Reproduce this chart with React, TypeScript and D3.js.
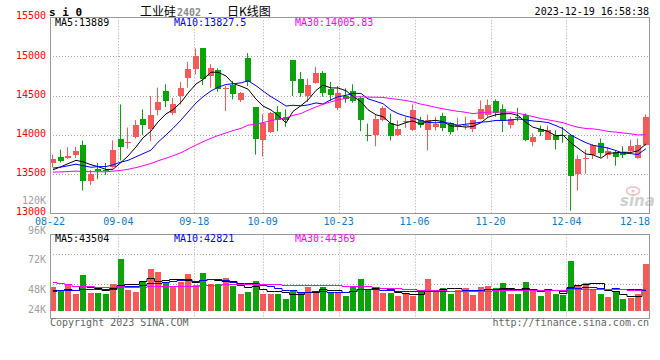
import React from "react";
import * as d3 from "d3";

// ---------- data ----------
const dates = [
  "08-22","08-23","08-24","08-25","08-28","08-29","08-30","08-31",
  "09-01","09-04","09-05","09-06","09-07","09-08","09-11","09-12","09-13","09-14","09-15","09-18","09-19","09-20","09-21","09-22","09-25","09-26","09-27","09-28",
  "10-09","10-10","10-11","10-12","10-13","10-16","10-17","10-18","10-19","10-20","10-23","10-24","10-25","10-26","10-27","10-30","10-31",
  "11-01","11-02","11-03","11-06","11-07","11-08","11-09","11-10","11-13","11-14","11-15","11-16","11-17","11-20","11-21","11-22","11-23","11-24","11-27","11-28","11-29","11-30",
  "12-01","12-04","12-05","12-06","12-07","12-08","12-11","12-12","12-13","12-14","12-15","12-18","12-19",
];

const opens = [
  13637,13722,13701,13748,13876,13406,13560,13555,13590,13953,
  13893,13970,14209,14073,14316,14555,14278,14496,14722,14838,
  15107,14752,14825,14581,14632,14444,14979,14350,13931,14034,
  14286,14222,14957,14709,14496,14662,14791,14581,14338,14496,
  14555,14474,14000,14004,14188,14158,14004,14167,14060,14184,
  14068,14107,14235,14154,14107,14111,14077,14197,14252,14427,
  14325,14124,14231,14248,13910,14077,13940,14000,14000,14000,
  13496,13692,13739,13897,13743,13778,13778,13790,13701,13867,
];
const highs = [
  13748,13812,13842,13850,13927,13555,13641,13641,13931,14389,
  14094,14188,14325,14496,14603,14645,14474,14675,14932,15103,
  15107,14902,14850,14624,14688,14547,15043,14350,14265,14291,
  14367,14325,14957,14803,14718,14868,14816,14675,14624,14594,
  14645,14487,14145,14261,14367,14273,14184,14231,14389,14231,
  14261,14231,14282,14162,14218,14231,14193,14440,14453,14453,
  14389,14231,14346,14273,14017,14120,14120,14060,14102,14009,
  13739,13812,13884,13953,13846,13799,13855,13940,13953,14261,
];
const lows = [
  13585,13649,13692,13705,13290,13363,13436,13491,13581,13675,
  13825,13953,13996,13919,14248,14355,14248,14389,14603,14773,
  14637,14603,14551,14303,14453,14419,14624,13748,13726,14025,
  14047,14102,14496,14487,14419,14654,14487,14432,14316,14410,
  14410,14047,13919,13855,14175,13927,13983,14090,14051,14090,
  13803,14056,14047,14004,14060,14068,14034,14197,14231,14231,
  14034,14081,14175,13919,13855,13983,13940,13812,13900,13034,
  13290,13504,13692,13714,13696,13607,13705,13786,13697,13863,
];
const closes = [
  13696,13662,13726,13799,13406,13504,13543,13543,13812,13842,
  13914,14120,14124,14248,14419,14427,14389,14594,14838,15000,
  14709,14859,14590,14603,14521,14530,14675,13953,14158,14273,
  14184,14196,14688,14530,14632,14791,14534,14508,14530,14453,
  14432,14196,13991,14209,14338,13983,14081,14175,14312,14124,
  14184,14137,14085,14034,14120,14120,14184,14325,14376,14282,
  14175,14197,14214,13931,13974,14034,14068,13931,13983,13470,
  13696,13701,13876,13769,13790,13718,13743,13863,13872,14231,
];
// volume, thousands of lots
const volumes = [
  45.3,42.5,46.9,39.8,55.0,40.6,40.6,39.6,47.7,68.0,
  43.1,41.5,49.6,59.9,57.7,48.2,45.5,49.6,55.8,47.2,
  56.9,47.7,47.7,52.6,46.1,39.8,41.2,50.1,39.8,39.6,
  39.6,35.8,42.0,41.5,45.5,42.3,45.5,40.6,41.5,38.2,
  45.0,51.8,42.8,43.9,40.6,40.1,38.2,40.1,38.2,42.3,
  51.8,42.8,44.4,39.6,42.8,44.4,38.8,45.5,46.1,44.4,
  48.5,39.6,39.6,49.3,42.8,37.9,43.6,39.6,38.8,66.4,
  46.1,48.5,42.8,39.6,37.1,41.5,35.5,36.6,39.6,64.0,
];
// sessions before 08-22 (only feed the moving averages)
const priorCloses = [
  13560,13600,13620,13580,13550,13590,13560,13540,13575,
  13500,13460,13420,13380,13400,13430,13450,13420,13440,13470,13433,
  13540,13560,13590,13603,13702,13467,13531,13589,13492,
];
const priorVolumes = [
  72,68,74,66,52,49,51,49.5,
  46,50,48,45,49,47,52,46,48,47,49,47.5,
  40,44,42,41,42,43,41,44,40.7,
];

const priceTicks = [15500, 15000, 14500, 14000, 13500, 13000];
const volumeTicks = [120, 96, 72, 48, 24];
const dateTicks = ["08-22", "09-04", "09-18", "10-09", "10-23", "11-06", "11-20", "12-04", "12-18"];
const maPeriods = [5, 10, 30];
const maColors = ["#000000", "#0000ff", "#ff00ff"];
const priceMaLegend = ["13889", "13827.5", "14005.83"];
const volumeMaLegend = ["43504", "42821", "44369"];

const titleCode = "s i 0";
const titleName = "工业硅";
const titleContract = "2402";
const titleSuffix = "日K线图";
const timestamp = "2023-12-19 16:58:38";

// ---------- styling ----------
const RED = "#f75959";
const GREEN = "#0aa30a";
const MONO = "'DejaVu Sans Mono', 'Liberation Mono', monospace";
const CJK = "'Noto Sans CJK SC', sans-serif";
const GRID = "#aaaaaa";
const BORDER = "#999999";

function movingAverage(prior: number[], values: number[], n: number) {
  const all = prior.concat(values);
  return values.map((_, i) => {
    const end = prior.length + i + 1;
    return d3.mean(all.slice(end - n, end)) as number;
  });
}

export default function App() {
  const L = 50, R = 650;
  const pTop = 17.3, pBot = 213.3;
  const vTop = 234.5, vBot = 318.5, vBase = 310.7;

  const xBand = d3.scaleBand<string>().domain(dates).range([L, R]);
  const xGrid = d3.scaleLinear().domain([0, dates.length - 1]).range([L, R]);
  const yP = d3.scaleLinear().domain([13000, 15500]).range([pBot, pTop]);
  const yV = d3.scaleLinear().domain([26, 120]).range([vBase, 195.2]);
  const bw = 6;
  const left = (i: number) => Math.round(xBand(dates[i]) as number);
  const mid = (i: number) => left(i) + 3;

  const priceMA = maPeriods.map((n) => movingAverage(priorCloses, closes, n));
  const volMA = maPeriods.map((n) => movingAverage(priorVolumes, volumes, n));

  const lineP = d3.line<number>().x((_, i) => mid(i)).y((d) => yP(d));
  const lineV = d3.line<number>().x((_, i) => mid(i)).y((d) => Math.round(yV(d)) + 0.5).curve(d3.curveStep);

  const px = (v: number) => Math.round(v) + 0.5;

  const gridXs = dateTicks
    .map((t) => dates.indexOf(t))
    .filter((i) => i > 0 && i < dates.length - 2)
    .map((i) => px(xGrid(i)));

  const legendX = [55, 174, 295];

  return (
    <svg
      width={660}
      height={360}
      style={{ position: "absolute", left: 0, top: 0, background: "#fff" }}
      fontFamily={MONO}
    >
      <rect x={0} y={0} width={660} height={360} fill="#fff" />

      {/* title */}
      <text x={49} y={16} fontSize={11} fontWeight="bold" fill="#000">{titleCode}</text>
      <text y={16} fontSize={12}>
        <tspan x={140} fontFamily={CJK} fill="#000">{titleName}</tspan>
        <tspan x={177} fontFamily={MONO} fontSize={10} fontWeight="bold" fill="#8a8a8a">{titleContract}</tspan>
        <tspan x={207} fontFamily={MONO} fontSize={11} fill="#000">-</tspan>
        <tspan x={227} fontFamily={CJK} fill="#000">{titleSuffix}</tspan>
      </text>
      <text x={649} y={15} fontSize={10} textAnchor="end" fill="#000">{timestamp}</text>

      {/* price grid */}
      {priceTicks.slice(1, -1).map((t) => (
        <line key={"pg" + t} x1={L} x2={R} y1={px(yP(t))} y2={px(yP(t))} stroke={GRID} strokeDasharray="1,2" />
      ))}
      {gridXs.map((x, k) => (
        <line key={"pv" + k} x1={x} x2={x} y1={pTop} y2={pBot} stroke={GRID} strokeDasharray="1,2" />
      ))}
      {gridXs.map((x, k) => (
        <line key={"vv" + k} x1={x} x2={x} y1={vTop} y2={vBot} stroke={GRID} strokeDasharray="1,2" />
      ))}
      {[72, 48].map((t) => (
        <line key={"vg" + t} x1={L} x2={R} y1={px(yV(t))} y2={px(yV(t))} stroke={GRID} strokeDasharray="1,2" />
      ))}

      {/* price axis labels */}
      {priceTicks.map((t) => (
        <text key={"pl" + t} x={46} y={yP(t) + 2} fontSize={10} textAnchor="end" fill="#ff0000">{t}</text>
      ))}
      {/* volume axis labels */}
      {volumeTicks.map((t) => (
        <text key={"vl" + t} x={46} y={Math.min(yV(t) + 9, 313.3)} fontSize={10} textAnchor="end" fill="#a0a0a0">{t + "K"}</text>
      ))}

      {/* date labels */}
      {dateTicks.map((t) => {
        const x = Math.min(xGrid(dates.indexOf(t)), R - 15);
        return (
          <text key={"dl" + t} x={x} y={225} fontSize={10} textAnchor="middle" fill="#0a7bd0">{t}</text>
        );
      })}

      {/* watermark */}
      <g opacity={0.55}>
        <ellipse cx={633} cy={191} rx={6.5} ry={4} fill="none" stroke="#e88" strokeWidth={1.6} />
        <circle cx={633} cy={191} r={1.6} fill="#e88" />
        <text x={620} y={206} fontFamily="'DejaVu Sans', sans-serif" fontSize={15} fontStyle="italic" fontWeight="bold" fill="#aaa">sina</text>
      </g>

      {/* candles */}
      {dates.map((d, i) => {
        const up = closes[i] >= opens[i];
        const col = up ? RED : GREEN;
        const top = yP(Math.max(opens[i], closes[i]));
        const bot = yP(Math.min(opens[i], closes[i]));
        return (
          <g key={"c" + d}>
            <line x1={left(i) + 2.5} x2={left(i) + 2.5} y1={yP(highs[i])} y2={yP(lows[i])} stroke={col} />
            <rect x={left(i)} y={Math.round(top)} width={bw} height={Math.max(1, Math.round(bot) - Math.round(top))} fill={col} />
          </g>
        );
      })}

      {/* price MA lines */}
      {priceMA.map((s, k) => (
        <path key={"pm" + k} d={lineP(s) as string} fill="none" stroke={maColors[k]} strokeWidth={1} />
      ))}

      {/* volume bars */}
      {dates.map((d, i) => {
        const up = closes[i] >= opens[i];
        const y = Math.round(yV(volumes[i]));
        return (
          <rect key={"v" + d} x={left(i)} y={y} width={bw} height={Math.round(vBase) - y} fill={up ? RED : GREEN} />
        );
      })}
      {volMA.map((s, k) => (
        <path key={"vm" + k} d={lineV(s) as string} fill="none" stroke={maColors[k]} strokeWidth={1} />
      ))}

      {/* panel borders */}
      <line x1={L} x2={R} y1={17.5} y2={17.5} stroke={BORDER} />
      <line x1={L} x2={R} y1={213.5} y2={213.5} stroke={BORDER} />
      <line x1={50.5} x2={50.5} y1={17.5} y2={213.5} stroke={BORDER} />
      <line x1={649.5} x2={649.5} y1={17.5} y2={213.5} stroke={BORDER} />
      <line x1={L} x2={R} y1={vTop} y2={vTop} stroke={BORDER} />
      <line x1={L} x2={R} y1={vBot} y2={vBot} stroke={BORDER} />
      <line x1={50.5} x2={50.5} y1={vTop} y2={vBot} stroke={BORDER} />
      <line x1={649.5} x2={649.5} y1={vTop} y2={vBot} stroke={BORDER} />

      {/* legends */}
      {priceMaLegend.map((v, k) => (
        <text key={"plg" + k} x={legendX[k]} y={26} fontSize={10} fill={maColors[k]}>{`MA${maPeriods[k]}:${v}`}</text>
      ))}
      {volumeMaLegend.map((v, k) => (
        <text key={"vlg" + k} x={legendX[k]} y={242} fontSize={10} fill={maColors[k]}>{`MA${maPeriods[k]}:${v}`}</text>
      ))}

      {/* footer */}
      <text x={50} y={326} fontSize={10} fill="#666">Copyright 2023 SINA.COM</text>
      <text x={649} y={326} fontSize={10} textAnchor="end" fill="#666">http://finance.sina.com.cn</text>
    </svg>
  );
}
